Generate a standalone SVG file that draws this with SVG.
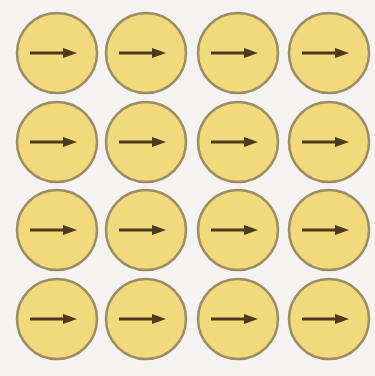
<svg xmlns="http://www.w3.org/2000/svg" width="375" height="376" viewBox="0 0 375 376">
<style>
.c{fill:#f1d97c;stroke:#9c8c62;stroke-width:2.5}
.a{stroke:#4a3b1c;stroke-width:3;fill:none}
.h{fill:#4a3b1c}
</style>
<defs>
<g id="arr"><line class="a" x1="-27" y1="0" x2="8" y2="0"/><polygon class="h" points="6,-5 20,0 6,5"/></g>
</defs>
<rect width="375" height="376" fill="#f4f3f1"/>
<g id="n11"><circle class="c" cx="57" cy="53" r="40"/><use href="#arr" x="57" y="53"/></g>
<g id="n12"><circle class="c" cx="146" cy="53" r="40"/><use href="#arr" x="146" y="53"/></g>
<g id="n13"><circle class="c" cx="238" cy="53" r="40"/><use href="#arr" x="238" y="53"/></g>
<g id="n14"><circle class="c" cx="329" cy="53" r="40"/><use href="#arr" x="329" y="53"/></g>
<g id="n21"><circle class="c" cx="57" cy="142" r="40"/><use href="#arr" x="57" y="142"/></g>
<g id="n22"><circle class="c" cx="146" cy="142" r="40"/><use href="#arr" x="146" y="142"/></g>
<g id="n23"><circle class="c" cx="238" cy="142" r="40"/><use href="#arr" x="238" y="142"/></g>
<g id="n24"><circle class="c" cx="329" cy="142" r="40"/><use href="#arr" x="329" y="142"/></g>
<g id="n31"><circle class="c" cx="57" cy="230" r="40"/><use href="#arr" x="57" y="230"/></g>
<g id="n32"><circle class="c" cx="146" cy="230" r="40"/><use href="#arr" x="146" y="230"/></g>
<g id="n33"><circle class="c" cx="238" cy="230" r="40"/><use href="#arr" x="238" y="230"/></g>
<g id="n34"><circle class="c" cx="329" cy="230" r="40"/><use href="#arr" x="329" y="230"/></g>
<g id="n41"><circle class="c" cx="57" cy="319" r="40"/><use href="#arr" x="57" y="319"/></g>
<g id="n42"><circle class="c" cx="146" cy="319" r="40"/><use href="#arr" x="146" y="319"/></g>
<g id="n43"><circle class="c" cx="238" cy="319" r="40"/><use href="#arr" x="238" y="319"/></g>
<g id="n44"><circle class="c" cx="329" cy="319" r="40"/><use href="#arr" x="329" y="319"/></g>
<g id="connectors"/>
</svg>
